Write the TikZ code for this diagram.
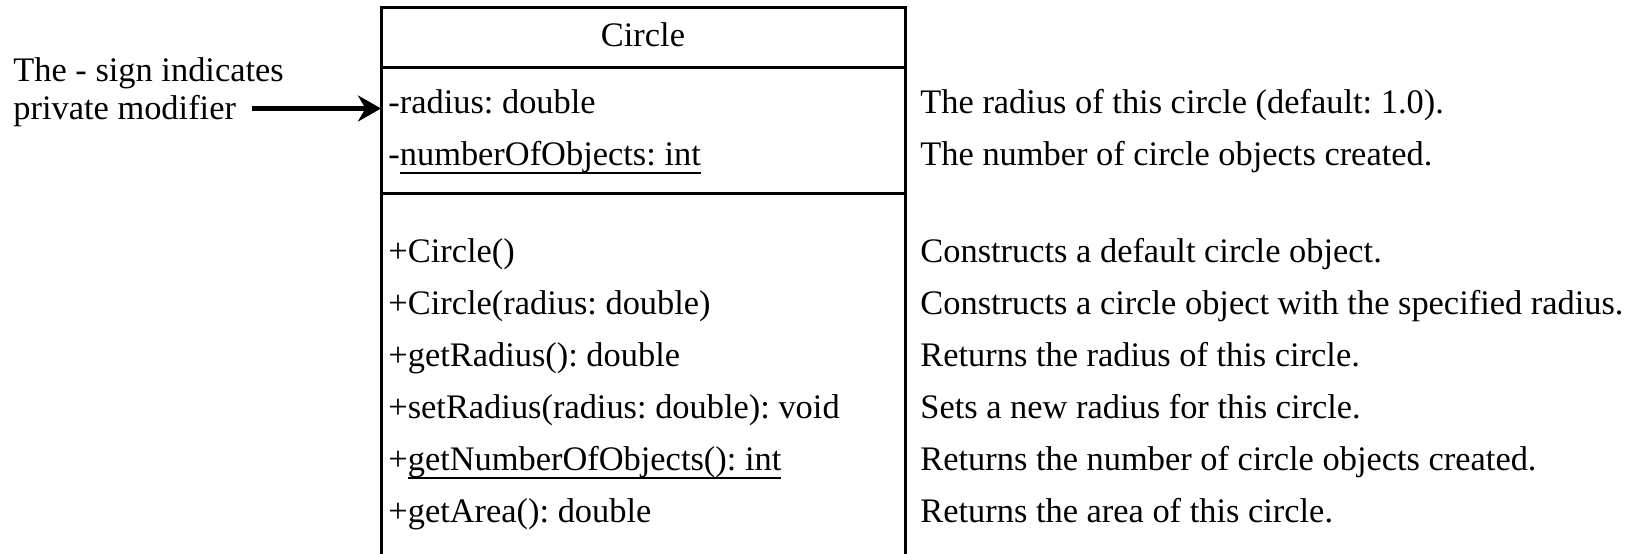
\documentclass[tikz,border=0pt]{standalone}
\usepackage{fontspec}
\setmainfont{Liberation Serif}
\usetikzlibrary{arrows.meta}
\frenchspacing
\newsavebox{\ulbox}
\newcommand{\ulined}[1]{\sbox{\ulbox}{#1}\rlap{\rule[-4.5pt]{\wd\ulbox}{1pt}}\usebox{\ulbox}} % underline for static members
\tikzset{
  umlline/.style={line width=1.5pt},
  plaintext/.style={anchor=base west, inner sep=0pt, text height=0.7em, text depth=0.25em},
  pointer/.style={-{Stealth[length=11.5pt,width=13pt]}, line width=2.3pt}
}

\begin{document}
\begin{tikzpicture}[x=0.5pt,y=-0.5pt,font=\fontsize{17.2}{20}\selectfont]
\useasboundingbox (0,0) rectangle (1647,553);

% Class box (runs past the bottom of the page)
\coordinate (boxNW) at (381,7);
\coordinate (boxSE) at (905,600);
\draw[umlline] (boxNW) rectangle (boxSE);
\draw[umlline] (381,67) -- (905,67);
\draw[umlline] (381,193) -- (905,193);

% Class name
\node[anchor=base, inner sep=0pt] (classname) at (643,46) {Circle};

% Data fields
\node[plaintext] (radius) at (388,113) {-radius: double};
\node[plaintext] (count) at (388,165) {-\ulined{numberOfObjects: int}};
\node[plaintext] (radiusdesc) at (920,113) {The radius of this circle (default: 1.0).};
\node[plaintext] (countdesc) at (920,165) {The number of circle objects created.};

% Constructors and methods
\foreach \y/\op/\desc [count=\i] in {
  262/{+Circle()}/{Constructs a default circle object.},
  314/{+Circle(radius: double)}/{Constructs a circle object with the specified radius.},
  366/{+getRadius(): double}/{Returns the radius of this circle.},
  418/{+setRadius(radius: double): void}/{Sets a new radius for this circle.},
  470/{+\ulined{getNumberOfObjects(): int}}/{Returns the number of circle objects created.},
  522/{+getArea(): double}/{Returns the area of this circle.}}
{
  \node[plaintext] (op\i) at (388,\y) {\op};
  \node[plaintext] (desc\i) at (920,\y) {\desc};
}

% Note on the left
\node[plaintext] (note1) at (13,81) {The - sign indicates};
\node[plaintext] (note2) at (13,119) {private modifier};
\draw[pointer] ([xshift=8pt]note2.east |- radius.west) -- (radius.west -| boxNW);

\end{tikzpicture}
\end{document}
